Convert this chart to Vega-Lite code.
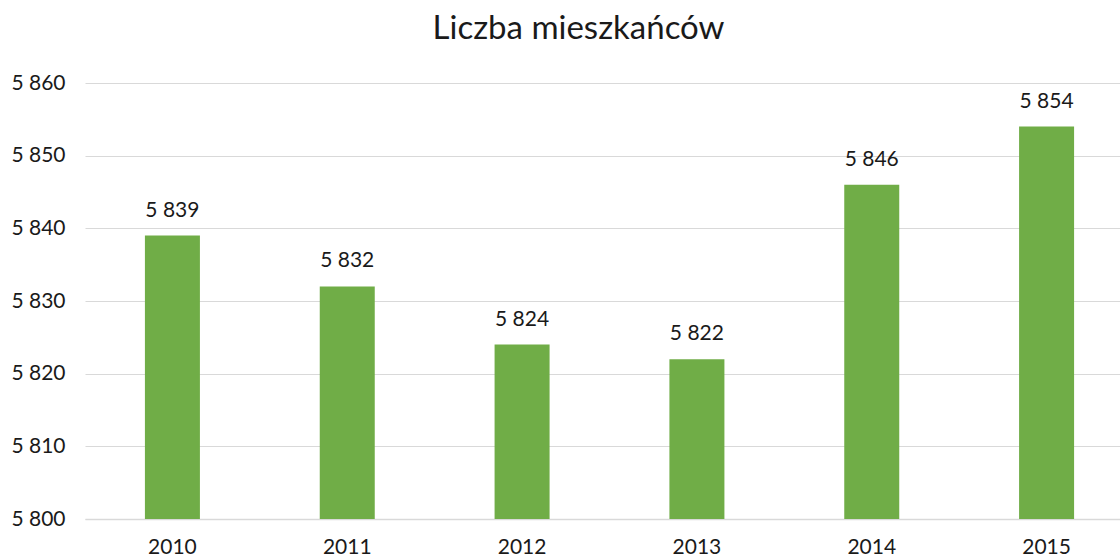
{
  "$schema": "https://vega.github.io/schema/vega-lite/v6.json",
  "autosize": {"type": "none"},
  "width": 1049,
  "height": 436,
  "padding": {"left": 85, "top": 83, "right": 0, "bottom": 41},
  "background": "white",
  "config": {
    "view": {"stroke": null},
    "font": "Lato",
    "locale": {"number": {"decimal": ",", "thousands": "\u00a0", "grouping": [3], "currency": ["", " zł"]}}
  },
  "title": {
    "text": "Liczba mieszkańców",
    "fontSize": 33,
    "fontWeight": "normal",
    "font": "Lato",
    "color": "#1a1a1a",
    "anchor": "middle",
    "frame": "group",
    "dx": -31,
    "offset": 26
  },
  "data": {
    "values": [
      {"rok": "2010", "mieszkancy": 5839},
      {"rok": "2011", "mieszkancy": 5832},
      {"rok": "2012", "mieszkancy": 5824},
      {"rok": "2013", "mieszkancy": 5822},
      {"rok": "2014", "mieszkancy": 5846},
      {"rok": "2015", "mieszkancy": 5854}
    ]
  },
  "encoding": {
    "x": {
      "field": "rok",
      "type": "nominal",
      "sort": null,
      "scale": {"paddingInner": 0, "paddingOuter": 0},
      "axis": {
        "title": null,
        "labelAngle": 0,
        "labelFontSize": 21,
        "labelColor": "#1a1a1a",
        "labelPadding": 17,
        "ticks": false,
        "domainColor": "#d9d9d9",
        "domainWidth": 1.5,
        "grid": false
      }
    },
    "y": {
      "field": "mieszkancy",
      "type": "quantitative",
      "scale": {"domain": [5800, 5860], "zero": false, "nice": false},
      "axis": {
        "title": null,
        "values": [5800, 5810, 5820, 5830, 5840, 5850, 5860],
        "format": ",d",
        "labelFontSize": 21,
        "labelColor": "#1a1a1a",
        "labelPadding": 20,
        "ticks": false,
        "domain": false,
        "gridColor": "#d9d9d9",
        "gridWidth": 1.2
      }
    }
  },
  "layer": [
    {
      "mark": {"type": "bar", "color": "#70ad47", "size": 55, "clip": true}
    },
    {
      "mark": {"type": "text", "dy": -25, "fontSize": 21, "color": "#1a1a1a", "baseline": "middle"},
      "encoding": {
        "text": {"field": "mieszkancy", "type": "quantitative", "format": ",d"}
      }
    }
  ]
}
